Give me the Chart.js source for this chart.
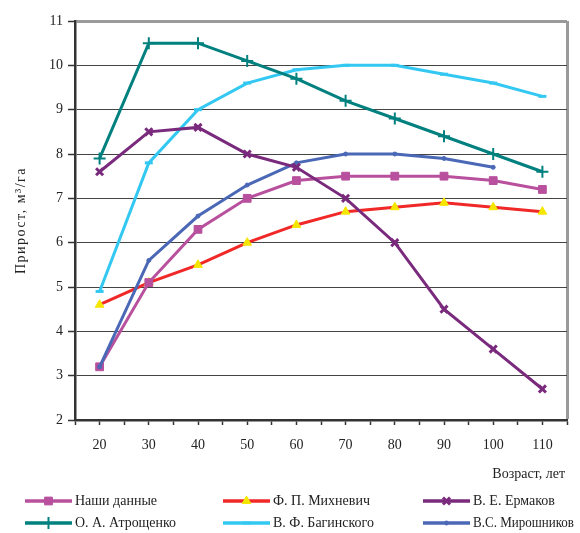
<!DOCTYPE html>
<html>
<head>
<meta charset="utf-8">
<script src="https://cdn.jsdelivr.net/npm/chart.js@4.4.1/dist/chart.umd.min.js"></script>
<style>
  html, body { margin: 0; padding: 0; background: #fff; }
  #wrap { position: relative; width: 580px; height: 533px; }
</style>
</head>
<body>
<div id="wrap"><canvas id="chart" width="580" height="533"></canvas></div>
<script>
// --- DATA ---
const ages = [20, 30, 40, 50, 60, 70, 80, 90, 100, 110];
const ourData    = [3.2, 5.1, 6.3, 7.0, 7.4, 7.5, 7.5, 7.5, 7.4, 7.2];
const mikhnevich = [4.6, 5.1, 5.5, 6.0, 6.4, 6.7, 6.8, 6.9, 6.8, 6.7];
const ermakov    = [7.6, 8.5, 8.6, 8.0, 7.7, 7.0, 6.0, 4.5, 3.6, 2.7];
const atroshenko = [7.9, 10.5, 10.5, 10.1, 9.7, 9.2, 8.8, 8.4, 8.0, 7.6];
const baginsky   = [4.9, 7.8, 9.0, 9.6, 9.9, 10.0, 10.0, 9.8, 9.6, 9.3];
const miroshnikov = [3.2, 5.6, 6.6, 7.3, 7.8, 8.0, 8.0, 7.9, 7.7, null];

const yTitle = 'Прирост, м³/га';
const xTitle = 'Возраст, лет';
const FONT = "'Liberation Serif', 'Times New Roman', serif";

const pts = vals => ages.map((a, i) => ({ x: a, y: vals[i] }));

function series(label, vals, color, o) {
  return Object.assign({
    label, data: pts(vals), borderColor: color, backgroundColor: color,
    pointBorderColor: color, pointBackgroundColor: color,
    borderWidth: 3, tension: 0, spanGaps: false
  }, o);
}

const datasets = [
  series('Наши данные', ourData, '#B8509E', { pointStyle: 'rect', pointRadius: 5.5, pointBorderWidth: 1, order: 3 }),
  series('Ф. П. Михневич', mikhnevich, '#F02828', { pointStyle: 'triangle', pointRadius: 5, pointBorderWidth: 1,
    pointBackgroundColor: '#F5E600', pointBorderColor: '#F5E600', order: 4 }),
  series('В. Е. Ермаков', ermakov, '#7A2A7D', { pointStyle: 'crossRot', pointRadius: 5, pointBorderWidth: 3, order: 0 }),
  series('О. А. Атрощенко', atroshenko, '#00807E', { pointStyle: 'cross', pointRadius: 6, pointBorderWidth: 2, order: 1 }),
  series('В. Ф. Багинского', baginsky, '#33C8F2', { pointStyle: 'line', pointRadius: 4, pointBorderWidth: 3, order: 5 }),
  series('В.С. Мирошников', miroshnikov, '#4A68B6', { pointStyle: 'circle', pointRadius: 2, pointBorderWidth: 1, order: 2 })
];

// legend + axis titles drawn by hand to match the original placement
const extras = {
  id: 'extras',
  afterDraw(chart) {
    const ctx = chart.ctx;
    ctx.save();
    ctx.fillStyle = '#222';
    ctx.font = '14px ' + FONT;
    ctx.textBaseline = 'middle';

    // y title
    ctx.save();
    ctx.translate(21, (chart.chartArea.top + chart.chartArea.bottom) / 2);
    ctx.rotate(-Math.PI / 2);
    ctx.textAlign = 'center';
    ctx.letterSpacing = '1.5px';
    ctx.fillText(yTitle, 0, 0);
    ctx.restore();

    // x title
    ctx.textAlign = 'right';
    ctx.fillText(xTitle, 565, 474);

    // legend
    const cols = [25, 223, 423];
    const rows = [501, 523];
    ctx.textAlign = 'left';
    chart.data.datasets.forEach((ds, i) => {
      const x0 = cols[i % 3], y = rows[Math.floor(i / 3)];
      ctx.strokeStyle = ds.borderColor;
      ctx.lineWidth = 3.5;
      ctx.beginPath();
      ctx.moveTo(x0, y);
      ctx.lineTo(x0 + 47, y);
      ctx.stroke();
      ctx.fillStyle = ds.pointBackgroundColor;
      ctx.strokeStyle = ds.pointBorderColor;
      ctx.lineWidth = ds.pointBorderWidth;
      Chart.helpers.drawPoint(ctx, { pointStyle: ds.pointStyle, radius: ds.pointRadius, rotation: 0, borderWidth: ds.pointBorderWidth }, x0 + 23.5, y);
      ctx.fillStyle = '#222';
      ctx.fillText(ds.label, x0 + 50, y, 101);
    });
    ctx.restore();
  }
};

new Chart(document.getElementById('chart'), {
  type: 'line',
  data: { datasets },
  plugins: [extras],
  options: {
    responsive: false,
    animation: false,
    layout: { padding: { top: 21, right: 13, bottom: 0, left: 0 } },
    plugins: { legend: { display: false }, tooltip: { enabled: false } },
    scales: {
      x: {
        type: 'linear', min: 15, max: 115,
        afterFit: s => { s.height = 113; },
        ticks: {
          stepSize: 5, autoSkip: false, maxRotation: 0, padding: 12,
          color: '#222', font: { family: FONT, size: 14 },
          callback: v => (v % 10 === 0 && v >= 20 && v <= 110) ? String(v) : ''
        },
        grid: {
          drawOnChartArea: true, tickLength: 5, tickColor: '#333', tickWidth: 1.5,
          color: c => c.tick && c.tick.value === 115 ? '#9a9a9a' : 'rgba(0,0,0,0)',
          lineWidth: c => c.tick && c.tick.value === 115 ? 3 : 1
        },
        border: { color: '#333', width: 2.5 }
      },
      y: {
        min: 2, max: 11,
        afterFit: s => { s.width = 75; },
        ticks: { stepSize: 1, padding: 5, color: '#222', font: { family: FONT, size: 14 } },
        grid: {
          tickLength: 7, tickColor: '#333', tickWidth: 1.5,
          color: c => c.tick && c.tick.value === 11 ? '#9a9a9a' : '#444',
          lineWidth: c => c.tick && c.tick.value === 11 ? 3 : 1
        },
        border: { color: '#333', width: 2.5 }
      }
    }
  }
});
</script>
</body>
</html>
